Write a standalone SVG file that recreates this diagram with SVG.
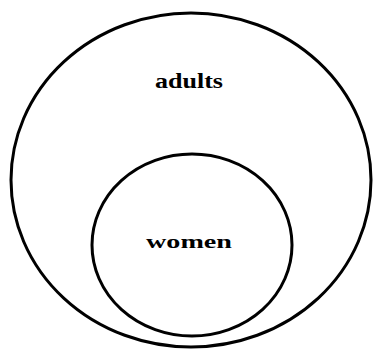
<svg xmlns="http://www.w3.org/2000/svg" width="377" height="351" viewBox="0 0 377 351">
<style>
.set{fill:none;stroke:#000;stroke-width:3}
.lbl{font-family:"Liberation Serif",serif;font-weight:bold;fill:#000;text-anchor:middle}
</style>
<rect width="377" height="351" fill="#fff"/>
<g id="adults">
<ellipse class="set" cx="191" cy="180" rx="180" ry="167"/>
<text class="lbl" x="189" y="88" font-size="20" textLength="68" lengthAdjust="spacingAndGlyphs">adults</text>
</g>
<g id="women">
<ellipse class="set" cx="192" cy="245" rx="100" ry="91"/>
<text class="lbl" x="189" y="248" font-size="19" textLength="86" lengthAdjust="spacingAndGlyphs">women</text>
</g>
<g id="connectors"></g>
</svg>
